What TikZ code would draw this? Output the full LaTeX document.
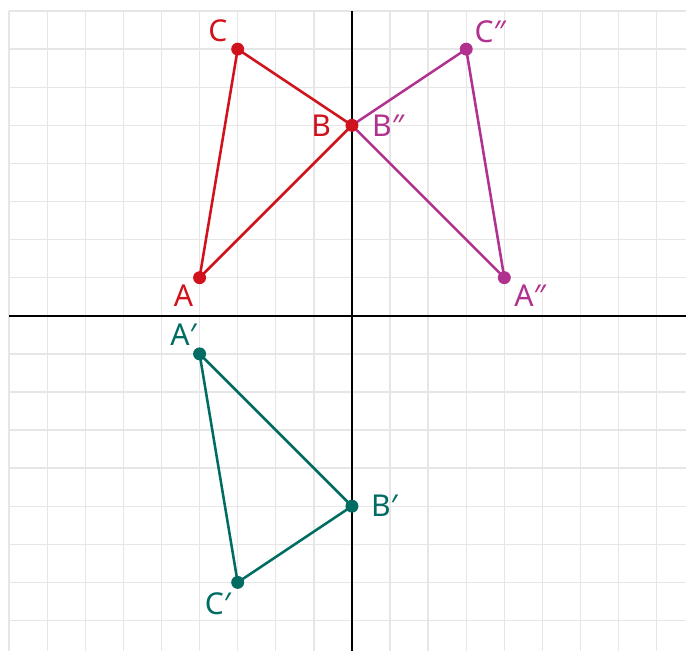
\documentclass[tikz,border=0pt]{standalone}
\usepackage{fontspec}
\setmainfont{Noto Sans}
\usepackage{tikz}
\usetikzlibrary{calc}
\definecolor{origc}{RGB}{208,18,28}
\definecolor{reflc}{RGB}{176,50,142}
\definecolor{rotc}{RGB}{0,108,98}
\definecolor{gridc}{RGB}{230,230,230}
\tikzset{
  gridline/.style={gridc,line width=1pt},
  axis/.style={black,line width=1.8pt},
  tri/.style={line width=1.9pt,line join=round},
  dot/.style={circle,fill,inner sep=0pt,minimum size=3.4mm},
  lbl/.style={inner sep=0pt,text height=16pt,text depth=0pt,font=\fontsize{22.5}{26}\selectfont}
}

\begin{document}
\begin{tikzpicture}
\useasboundingbox (-9.24,-8.80) rectangle (8.77,8.29);
% grid and axes
\draw[gridline] (-9,-8.8) grid (8.77,8);
\draw[axis] (-9,0) -- (8.77,0);
\draw[axis] (0,-8.8) -- (0,8);

% points
\coordinate (A) at (-4,1);
\coordinate (B) at (0,5);
\coordinate (C) at (-3,7);
\coordinate (A1) at (-4,-1);
\coordinate (B1) at (0,-5);
\coordinate (C1) at (-3,-7);
\coordinate (A2) at (4,1);
\coordinate (B2) at (0,5);
\coordinate (C2) at (3,7);

% reflected triangle
\draw[tri,reflc] (A2) -- (B2) -- (C2) -- cycle;
\node[dot,reflc] (dA2) at (A2) {};
\node[dot,reflc] (dC2) at (C2) {};
\node[lbl,reflc] (lA2) at ($(A2)+(0.68,-0.47)$) {A″};
\node[lbl,reflc] (lB2) at ($(B2)+(0.95,0)$) {B″};
\node[lbl,reflc] (lC2) at ($(C2)+(0.63,0.45)$) {C″};

% original triangle
\draw[tri,origc] (A) -- (B) -- (C) -- cycle;
\node[dot,origc] (dA) at (A) {};
\node[dot,origc] (dB) at (B) {};
\node[dot,origc] (dC) at (C) {};
\node[lbl,origc] (lA) at ($(A)+(-0.42,-0.47)$) {A};
\node[lbl,origc] (lB) at ($(B)+(-0.81,0)$) {B};
\node[lbl,origc] (lC) at ($(C)+(-0.52,0.47)$) {C};

% rotated triangle
\draw[tri,rotc] (A1) -- (B1) -- (C1) -- cycle;
\node[dot,rotc] (dA1) at (A1) {};
\node[dot,rotc] (dB1) at (B1) {};
\node[dot,rotc] (dC1) at (C1) {};
\node[lbl,rotc] (lA1) at ($(A1)+(-0.42,0.5)$) {A′};
\node[lbl,rotc] (lB1) at ($(B1)+(0.85,0)$) {B′};
\node[lbl,rotc] (lC1) at ($(C1)+(-0.52,-0.55)$) {C′};
\end{tikzpicture}
\end{document}
